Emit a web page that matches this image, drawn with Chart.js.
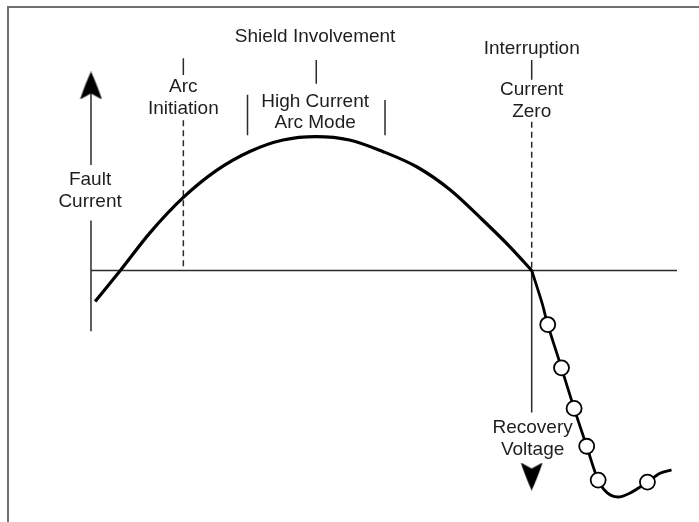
<!DOCTYPE html>
<html>
<head>
<meta charset="utf-8">
<script src="https://cdn.jsdelivr.net/npm/chart.js@4"></script>
<style>
  html, body { margin: 0; padding: 0; background: #fff; }
  #wrap { position: relative; width: 699px; height: 522px; overflow: hidden; }
  #frame {
    position: absolute; left: 7px; top: 6px; width: 720px; height: 540px;
    border-left: 2px solid #6f6f6f; border-top: 2px solid #6f6f6f;
  }
  #plot { position: absolute; left: 0; top: 0; }
</style>
</head>
<body>
<div id="wrap">
  <div id="frame"></div>
  <canvas id="plot" width="699" height="522"></canvas>
</div>
<script>
// phase angle in electrical degrees, current / voltage in per-unit
const faultDeg     = [-10.5, 0.5, 13.5, 28, 42.5, 57, 71.5, 86, 100.5, 115, 130, 144.5, 158.5, 170.5, 180];
const faultCurrent = [-0.23, 0, 0.28, 0.54, 0.74, 0.88, 0.965, 0.99, 0.965, 0.88, 0.765, 0.595, 0.375, 0.175, 0];

const recoveryDeg     = [180, 184.5, 187, 193, 198.5, 204, 209, 213, 217.5, 223, 230.5, 236, 241];
const recoveryVoltage = [0, -0.24, -0.4, -0.72, -1.02, -1.3, -1.55, -1.645, -1.675, -1.645, -1.565, -1.5, -1.475];
const recoveryMarked  = [false, false, true, true, true, true, true, false, false, false, true, false, false];

const AXIS_X = -12.3;
const AXIS_END = 243.4;
const ARC_START = 28;
const CURRENT_ZERO = 180;
const SHIELD_X = 86;
const ARC_MODE_FROM = 56;
const ARC_MODE_TO = 116;

// guide strokes: axes, event markers, bracket ticks
const guides = [
  { x: [AXIS_X, AXIS_END], y: [0, 0] },
  { x: [AXIS_X, AXIS_X], y: [0.37, -0.45] },
  { x: [AXIS_X, AXIS_X], y: [1.33, 0.78] },
  { x: [ARC_START, ARC_START], y: [1.57, 1.445] },
  { x: [ARC_START, ARC_START], y: [1.11, 0], dashed: true },
  { x: [SHIELD_X, SHIELD_X], y: [1.556, 1.38] },
  { x: [ARC_MODE_FROM, ARC_MODE_FROM], y: [1.30, 1.0] },
  { x: [ARC_MODE_TO, ARC_MODE_TO], y: [1.26, 1.0] },
  { x: [CURRENT_ZERO, CURRENT_ZERO], y: [1.556, 1.41] },
  { x: [CURRENT_ZERO, CURRENT_ZERO], y: [1.10, 0], dashed: true },
  { x: [CURRENT_ZERO, CURRENT_ZERO], y: [0, -1.05] },
];

const captions = [
  { lines: ["Shield Involvement"], x: 85.5, y: 1.73 },
  { lines: ["Arc", "Initiation"], x: ARC_START, y: 1.357 },
  { lines: ["High Current", "Arc Mode"], x: 85.5, y: 1.25 },
  { lines: ["Interruption"], x: CURRENT_ZERO, y: 1.64 },
  { lines: ["Current", "Zero"], x: CURRENT_ZERO, y: 1.334 },
  { lines: ["Fault", "Current"], x: -12.7, y: 0.67 },
  { lines: ["Recovery", "Voltage"], x: 180.4, y: -1.165 },
];

// arrow tips on the two axis directions
const arrowX = [AXIS_X, CURRENT_ZERO];
const arrowY = [1.368, -1.524];
const arrowTurn = [0, 180];

function arrowHead() {
  const c = document.createElement("canvas");
  c.width = 23;
  c.height = 28;
  const g = c.getContext("2d");
  g.fillStyle = "#000";
  g.beginPath();
  g.moveTo(11.5, 0);
  g.quadraticCurveTo(17, 12, 22.5, 28);
  g.lineTo(11.5, 22);
  g.lineTo(0.5, 28);
  g.quadraticCurveTo(6, 12, 11.5, 0);
  g.closePath();
  g.fill();
  return c;
}

const zip = (xs, ys) => xs.map((x, i) => ({ x, y: ys[i] }));

const guideSets = guides.map((g) => ({
  data: zip(g.x, g.y),
  borderColor: "#2a2a2a",
  borderWidth: 1.5,
  borderDash: g.dashed ? [6, 4] : [],
  pointRadius: 0,
  order: 3,
}));

const captionPlugin = {
  id: "captions",
  afterDatasetsDraw(chart) {
    const { ctx, scales } = chart;
    ctx.save();
    ctx.font = '19px "Liberation Sans", Arial, sans-serif';
    ctx.fillStyle = "#1e1e1e";
    ctx.textAlign = "center";
    ctx.textBaseline = "middle";
    captions.forEach((c) => {
      const px = scales.x.getPixelForValue(c.x);
      const py = scales.y.getPixelForValue(c.y);
      c.lines.forEach((line, i) => ctx.fillText(line, px, py + i * 21.5));
    });
    ctx.restore();
  },
};

new Chart(document.getElementById("plot"), {
  type: "line",
  data: {
    datasets: [
      {
        data: zip(recoveryDeg, recoveryVoltage),
        borderColor: "#000",
        borderWidth: 2.8,
        tension: 0.3,
        pointRadius: recoveryMarked.map((m) => (m ? 7.5 : 0)),
        pointBackgroundColor: "#fff",
        pointBorderColor: "#000",
        pointBorderWidth: 1.8,
        order: 0,
      },
      {
        data: zip(faultDeg, faultCurrent),
        borderColor: "#000",
        borderWidth: 3.2,
        cubicInterpolationMode: "monotone",
        pointRadius: 0,
        order: 1,
      },
      {
        data: zip(arrowX, arrowY),
        showLine: false,
        pointStyle: arrowHead(),
        rotation: arrowTurn,
        pointRadius: 10,
        order: 2,
      },
      ...guideSets,
    ],
  },
  options: {
    responsive: false,
    animation: false,
    events: [],
    layout: { padding: 0, autoPadding: false },
    scales: {
      x: { type: "linear", min: -52, max: 253, display: false },
      y: { type: "linear", min: -1.86, max: 2, display: false },
    },
    plugins: { legend: { display: false }, tooltip: { enabled: false } },
  },
  plugins: [captionPlugin],
});
</script>
</body>
</html>
